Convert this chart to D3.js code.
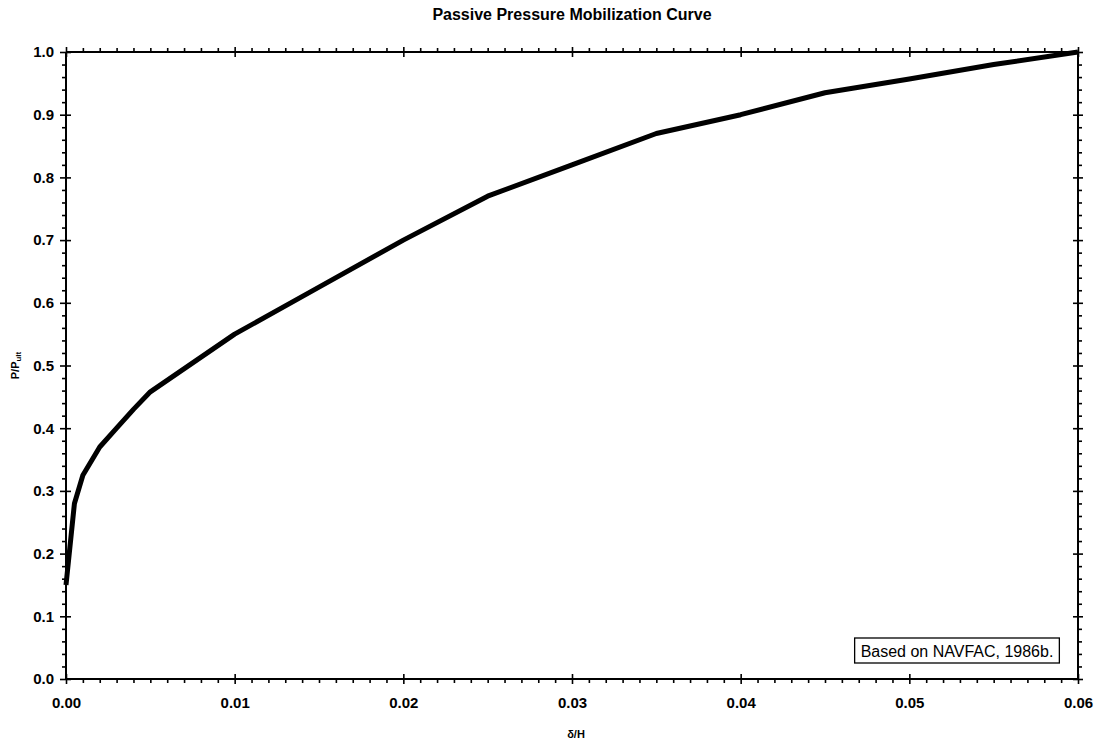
<!DOCTYPE html>
<html>
<head>
<meta charset="utf-8">
<script src="https://cdn.jsdelivr.net/npm/d3@7"></script>
<style>
  html, body { margin: 0; padding: 0; background: #fff; }
  svg { display: block; }
  text { font-family: "Liberation Sans", Arial, Helvetica, sans-serif; fill: #000; }
  .domain { stroke: #000; stroke-width: 2; }
  .tick line { stroke: #000; stroke-width: 1.6; }
</style>
</head>
<body>
<svg id="chart" width="1106" height="745"></svg>
<script>
// Displacement ratio δ/H and mobilized fraction P/Pult
const deltaH = [0, 0.0005, 0.001, 0.002, 0.003, 0.004, 0.005, 0.01, 0.015, 0.02, 0.025, 0.03, 0.035, 0.04, 0.045, 0.05, 0.055, 0.06];
const pRatio = [0.15, 0.28, 0.325, 0.37, 0.40, 0.43, 0.458, 0.55, 0.625, 0.70, 0.77, 0.82, 0.87, 0.90, 0.935, 0.957, 0.98, 1.0];

const xMajorTicks = [0, 0.01, 0.02, 0.03, 0.04, 0.05, 0.06];
const xTickLabels = ["0.00", "0.01", "0.02", "0.03", "0.04", "0.05", "0.06"];
const yMajorTicks = [0, 0.1, 0.2, 0.3, 0.4, 0.5, 0.6, 0.7, 0.8, 0.9, 1.0];
const yTickLabels = ["0.0", "0.1", "0.2", "0.3", "0.4", "0.5", "0.6", "0.7", "0.8", "0.9", "1.0"];
const xMinorStep = 0.001;
const yMinorStep = 0.02;

const titleText = "Passive Pressure Mobilization Curve";
const noteText = "Based on NAVFAC, 1986b.";

const svg = d3.select("#chart");
const plotLeft = 66, plotRight = 1078, plotTop = 52, plotBottom = 679;

const x = d3.scaleLinear().domain([0, 0.06]).range([plotLeft, plotRight]);
const y = d3.scaleLinear().domain([0, 1.0]).range([plotBottom, plotTop]);

const xMinor = d3.range(0, 61).map(i => +(i * xMinorStep).toFixed(4))
  .filter(v => !xMajorTicks.some(m => Math.abs(m - v) < 1e-9));
const yMinor = d3.range(0, 51).map(i => +(i * yMinorStep).toFixed(4))
  .filter(v => !yMajorTicks.some(m => Math.abs(m - v) < 1e-9));

const dropDomain = g => g.select(".domain").remove();

// Bottom axis: labels, major ticks crossing the line, minor ticks outward
svg.append("g").attr("transform", `translate(0,${plotBottom})`)
  .call(d3.axisBottom(x).tickValues(xMajorTicks).tickSize(5).tickPadding(13)
    .tickFormat((d, i) => xTickLabels[i]))
  .call(g => g.selectAll("text").attr("font-size", 15).attr("font-weight", "bold"))
  .call(g => g.select(".domain").attr("d", `M${plotLeft},0H${plotRight}`));
svg.append("g").attr("transform", `translate(0,${plotBottom})`)
  .call(d3.axisBottom(x).tickValues(xMajorTicks).tickSize(-5).tickFormat(""))
  .call(dropDomain);
svg.append("g").attr("transform", `translate(0,${plotBottom})`)
  .call(d3.axisBottom(x).tickValues(xMinor).tickSize(4).tickFormat(""))
  .call(dropDomain);

// Top axis
svg.append("g").attr("transform", `translate(0,${plotTop})`)
  .call(d3.axisTop(x).tickValues(xMajorTicks).tickSize(5).tickFormat(""))
  .call(g => g.select(".domain").attr("d", `M${plotLeft},0H${plotRight}`));
svg.append("g").attr("transform", `translate(0,${plotTop})`)
  .call(d3.axisTop(x).tickValues(xMajorTicks).tickSize(-5).tickFormat(""))
  .call(dropDomain);
svg.append("g").attr("transform", `translate(0,${plotTop})`)
  .call(d3.axisTop(x).tickValues(xMinor).tickSize(4).tickFormat(""))
  .call(dropDomain);

// Left axis: labels
svg.append("g").attr("transform", `translate(${plotLeft},0)`)
  .call(d3.axisLeft(y).tickValues(yMajorTicks).tickSize(6).tickPadding(6)
    .tickFormat((d, i) => yTickLabels[i]))
  .call(g => g.selectAll("text").attr("font-size", 15).attr("font-weight", "bold"))
  .call(g => g.select(".domain").attr("d", `M0,${plotBottom}V${plotTop}`));
svg.append("g").attr("transform", `translate(${plotLeft},0)`)
  .call(d3.axisLeft(y).tickValues(yMajorTicks).tickSize(-5).tickFormat(""))
  .call(dropDomain);
svg.append("g").attr("transform", `translate(${plotLeft},0)`)
  .call(d3.axisLeft(y).tickValues(yMinor).tickSize(4).tickFormat(""))
  .call(dropDomain);

// Right axis
svg.append("g").attr("transform", `translate(${plotRight},0)`)
  .call(d3.axisRight(y).tickValues(yMajorTicks).tickSize(5).tickFormat(""))
  .call(g => g.select(".domain").attr("d", `M0,${plotBottom}V${plotTop}`));
svg.append("g").attr("transform", `translate(${plotRight},0)`)
  .call(d3.axisRight(y).tickValues(yMajorTicks).tickSize(-5).tickFormat(""))
  .call(dropDomain);
svg.append("g").attr("transform", `translate(${plotRight},0)`)
  .call(d3.axisRight(y).tickValues(yMinor).tickSize(4).tickFormat(""))
  .call(dropDomain);

// Mobilization curve
const pts = deltaH.map((d, i) => [d, pRatio[i]]);
const line = d3.line().x(d => x(d[0])).y(d => y(d[1]));
svg.append("path").datum(pts)
  .attr("d", line)
  .attr("fill", "none")
  .attr("stroke", "#000")
  .attr("stroke-width", 5)
  .attr("stroke-linejoin", "round")
  .attr("stroke-linecap", "butt");

// Title
svg.append("text")
  .attr("x", (plotLeft + plotRight) / 2).attr("y", 20)
  .attr("text-anchor", "middle")
  .attr("font-size", 16).attr("font-weight", "bold")
  .text(titleText);

// Axis titles
svg.append("text")
  .attr("x", (plotLeft + plotRight) / 2 + 4).attr("y", 738)
  .attr("text-anchor", "middle")
  .attr("font-size", 11).attr("font-weight", "bold")
  .text("δ/H");

const yTitle = svg.append("text")
  .attr("transform", `translate(19,${(plotTop + plotBottom) / 2}) rotate(-90)`)
  .attr("text-anchor", "middle")
  .attr("font-size", 11).attr("font-weight", "bold");
yTitle.append("tspan").text("P/P");
yTitle.append("tspan").attr("font-size", 8).attr("dy", 2).text("ult");

// Source note
const note = svg.append("g");
const noteLabel = note.append("text")
  .attr("x", 957).attr("y", 657)
  .attr("text-anchor", "middle")
  .attr("font-size", 16)
  .text(noteText);
const bb = noteLabel.node().getBBox();
note.insert("rect", "text")
  .attr("x", bb.x - 6).attr("y", 638)
  .attr("width", bb.width + 12).attr("height", 25)
  .attr("fill", "#fff").attr("stroke", "#000").attr("stroke-width", 1.3);
</script>
</body>
</html>
